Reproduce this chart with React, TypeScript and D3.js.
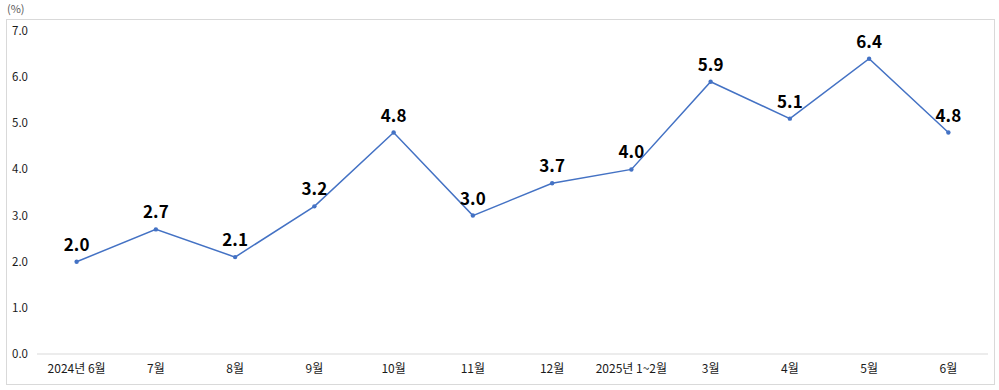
import React from 'react';
import * as d3 from 'd3';

const categories = ['2024년 6월', '7월', '8월', '9월', '10월', '11월', '12월', '2025년 1~2월', '3월', '4월', '5월', '6월'];
const values = [2.0, 2.7, 2.1, 3.2, 4.8, 3.0, 3.7, 4.0, 5.9, 5.1, 6.4, 4.8];
const yTicks = [0, 1, 2, 3, 4, 5, 6, 7];

const width = 999;
const height = 390;
const margin = { top: 31, right: 11, bottom: 36, left: 37 };
const font = '"Noto Sans CJK KR", "Noto Sans", sans-serif';

const App = () => {
  const xScale = d3
    .scaleBand()
    .domain(categories)
    .range([margin.left, width - margin.right]);

  const yScale = d3
    .scaleLinear()
    .domain([0, 7])
    .range([height - margin.bottom, margin.top]);

  const cx = (i: number) => (xScale(categories[i]) as number) + xScale.bandwidth() / 2;

  const line = d3
    .line<number>()
    .x((_, i) => cx(i))
    .y((d) => yScale(d));

  const base = yScale(0);

  return (
    <div style={{ position: 'absolute', left: 0, top: 0 }}>
      <svg width={width} height={height} style={{ display: 'block', background: '#fff' }}>
        {/* outer frame */}
        <rect x={6.5} y={19.5} width={988} height={365} fill="none" stroke="#d9d9d9" strokeWidth={1} />
        <text x={7} y={13} fontFamily={font} fontSize={11} fill="#595959">(%)</text>

        {/* y axis labels */}
        {yTicks.map((t) => (
          <text
            key={t}
            x={12}
            y={yScale(t)}
            dy="0.35em"
            fontFamily={font}
            fontSize={11.5}
            fill="#1a1a1a"
          >
            {d3.format('.1f')(t)}
          </text>
        ))}

        {/* baseline */}
        <line x1={margin.left} x2={width - margin.right} y1={base} y2={base} stroke="#d9d9d9" strokeWidth={1} />

        {/* x axis labels */}
        {categories.map((c, i) => (
          <text
            key={c}
            x={cx(i)}
            y={base + 19}
            textAnchor="middle"
            fontFamily={font}
            fontSize={12}
            fill="#1a1a1a"
          >
            {c}
          </text>
        ))}

        {/* line */}
        <path d={line(values) ?? ''} fill="none" stroke="#4472c4" strokeWidth={1.5} />
        {values.map((v, i) => (
          <circle key={i} cx={cx(i)} cy={yScale(v)} r={2.2} fill="#4472c4" />
        ))}

        {/* data labels */}
        {values.map((v, i) => (
          <text
            key={'l' + i}
            x={cx(i)}
            y={yScale(v) - 11}
            textAnchor="middle"
            fontFamily={font}
            fontSize={17}
            fontWeight="bold"
            fill="#000"
          >
            {d3.format('.1f')(v)}
          </text>
        ))}
      </svg>
    </div>
  );
};

export default App;
